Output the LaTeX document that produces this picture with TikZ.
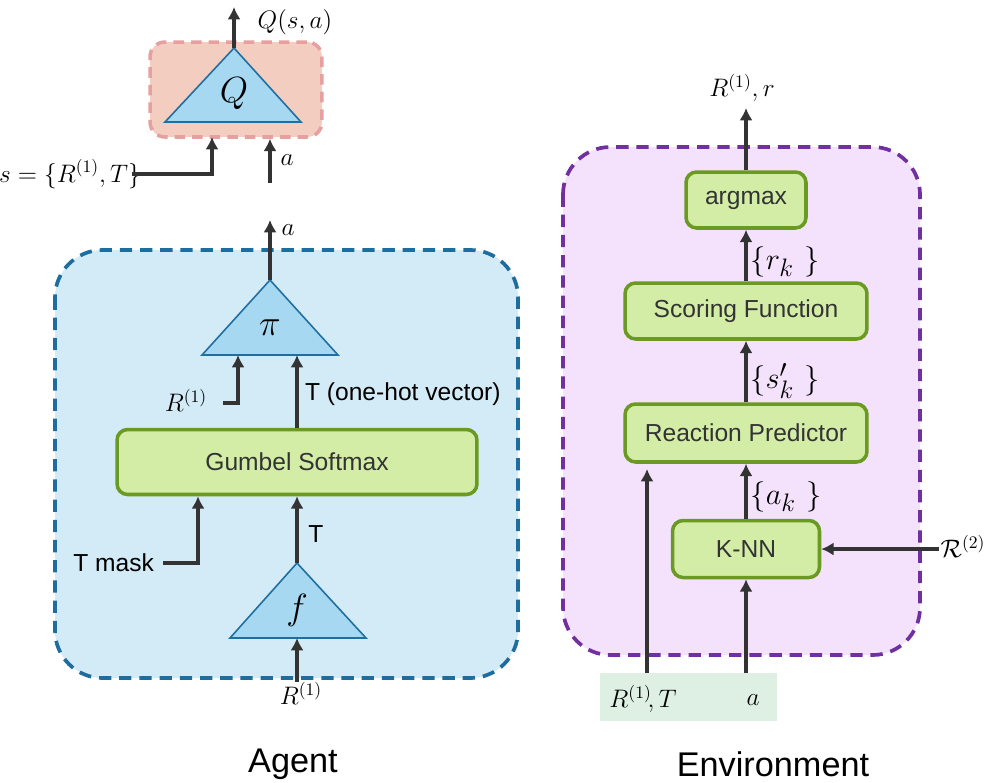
\documentclass[tikz,border=0pt]{standalone}
\usepackage{fontspec}
\setsansfont{Liberation Sans}
\usetikzlibrary{arrows.meta,positioning}

\definecolor{arrowgray}{HTML}{333333}
\definecolor{trifill}{HTML}{A6D8F2}
\definecolor{tridraw}{HTML}{1F6FA0}
\definecolor{qfill}{HTML}{F2CDC0}
\definecolor{qdraw}{HTML}{E6A0A0}
\definecolor{agentfill}{HTML}{D3EBF7}
\definecolor{agentdraw}{HTML}{1D6E9E}
\definecolor{envfill}{HTML}{F4E1FC}
\definecolor{envdraw}{HTML}{7030A0}
\definecolor{boxfill}{HTML}{D3EDA6}
\definecolor{boxdraw}{HTML}{6A9A22}
\definecolor{inputfill}{HTML}{DDF0E3}

\tikzset{
  flow/.style={draw=arrowgray, line width=1.8pt, -{Latex[length=7pt,width=7.5pt]}},
  blockbox/.style={draw=boxdraw, fill=boxfill, line width=2pt, rounded corners=6pt,
    font=\sffamily\fontsize{14}{16}\selectfont, text=arrowgray, inner sep=0pt},
  net/.style={draw=tridraw, fill=trifill, line width=0.9pt},
  netlabel/.style={font=\fontsize{20}{22}\selectfont},
  mathlabel/.style={font=\fontsize{14}{16}\selectfont, inner sep=1pt},
  setlabel/.style={font=\fontsize{19}{21}\selectfont, inner sep=1pt},
  textlabel/.style={font=\sffamily\fontsize{14}{16}\selectfont, inner sep=1pt},
  caption/.style={font=\sffamily\fontsize{19.5}{22}\selectfont},
  region/.style={line width=2.1pt, dash pattern=on 7pt off 4.5pt, rounded corners=0.95cm},
}

\begin{document}
\begin{tikzpicture}[x=0.02cm, y=-0.02cm]
  \useasboundingbox (0,0) rectangle (990,782);

  % Draw the two regions
  \draw[region, draw=agentdraw, fill=agentfill] (55,250) rectangle (518,678);
  \draw[region, draw=envdraw, fill=envfill] (563,147) rectangle (920,655);

  % Critic
  \node[draw=qdraw, fill=qfill, line width=2pt, dash pattern=on 6pt off 4pt,
    rounded corners=0.3cm, minimum width=3.44cm, minimum height=1.9cm] (qbox) at (236,89.5) {};
  \coordinate (qtop) at (234,48);
  \draw[net] (165,122) -- (qtop) -- (301,122) -- cycle;
  \node[netlabel] (qsym) at (234,94) {$Q$};
  \coordinate (qout) at (234,7);
  \draw[flow] (qtop) -- (qout);
  \node[mathlabel] (qlab) at (295,22) {$Q(s,a)$};

  \node[mathlabel, anchor=east] (slab) at (143,174) {$s=\{R^{(1)},T\}$};
  \coordinate (sin) at (212,137);
  \draw[flow] ([xshift=-6pt]slab.east) -| (sin);

  \coordinate (ain) at (270,183);
  \draw[flow] (ain) -- (ain |- qbox.south);
  \node[mathlabel] (alab) at (287,160) {$a$};

  % Agent: policy
  \coordinate (pitop) at (270,280);
  \draw[net] (202,355) -- (pitop) -- (338,355) -- cycle;
  \node[netlabel] (pisym) at (270,328) {$\pi$};
  \coordinate (aout) at (270,220);
  \draw[flow] (pitop) -- (aout);
  \node[mathlabel] (aoutlab) at (288,230) {$a$};

  \node[blockbox, minimum width=7.2cm, minimum height=1.3cm] (gumbel) at (297,462) {Gumbel Softmax};

  \node[mathlabel] (rpi) at (186,400) {$R^{(1)}$};
  \coordinate (rpiin) at (238,355);
  \draw[flow] ([xshift=8pt]rpi.east |- 0,403) -| (rpiin);

  \coordinate (tpiin) at (297,355);
  \draw[flow] (gumbel.north -| tpiin) -- (tpiin);
  \node[textlabel, anchor=west] (tonehot) at (303,394) {T (one-hot vector)};

  \node[textlabel, anchor=east] (tmask) at (156,563) {T mask};
  \coordinate (tmaskin) at (198,495);
  \draw[flow] ([xshift=4pt]tmask.east) -| (gumbel.south -| tmaskin);

  % Agent: type network
  \coordinate (ftop) at (297,563);
  \draw[net] (230,638) -- (ftop) -- (366,638) -- cycle;
  \node[netlabel] (fsym) at (297,610) {$f$};
  \draw[flow] (ftop) -- (gumbel.south -| ftop);
  \node[textlabel] (tlab) at (316,534) {T};

  \node[mathlabel] (rf) at (301,693) {$R^{(1)}$};
  \coordinate (rfin) at (297,682);
  \draw[flow] (rfin) -- (297,638);

  % Environment
  \node[blockbox, minimum width=2.4cm, minimum height=1.12cm] (argmax) at (746,200) {argmax};
  \node[blockbox, minimum width=4.84cm, minimum height=1.12cm] (score) at (746,311) {Scoring Function};
  \node[blockbox, minimum width=4.84cm, minimum height=1.16cm] (react) at (746,433) {Reaction Predictor};
  \node[blockbox, minimum width=2.94cm, minimum height=1.14cm] (knn) at (746,549) {K-NN};

  \coordinate (envout) at (746,108);
  \draw[flow] (argmax) -- (envout);
  \node[mathlabel] (envlab) at (742,88) {$R^{(1)},r$};

  \draw[flow] (score) -- (argmax);
  \node[setlabel] (rk) at (785,262) {$\{r_k\ \}$};
  \draw[flow] (react) -- (score);
  \node[setlabel] (sk) at (785,381) {$\{s'_k\ \}$};
  \draw[flow] (knn) -- (react);
  \node[setlabel] (ak) at (786,497) {$\{a_k\ \}$};

  \node[mathlabel] (rtwo) at (963,546) {$\mathcal{R}^{(2)}$};
  \draw[flow] (knn.east -| rtwo.west) -- (knn.east);

  % Environment inputs
  \fill[inputfill] (600,673) rectangle (777,721);
  \node[mathlabel] (inrt) at (643,699) {$R^{(1)}\!,T$};
  \node[mathlabel] (ina) at (753,700) {$a$};
  \coordinate (rtin) at (647,673);
  \coordinate (ain2) at (746,673);
  \draw[flow] (rtin) -- ([yshift=-3pt]react.south -| rtin);
  \draw[flow] (ain2) -- (knn.south);

  % Captions
  \node[caption] (agent) at (293,764) {Agent};
  \node[caption] (env) at (773,764) {Environment};
\end{tikzpicture}
\end{document}
